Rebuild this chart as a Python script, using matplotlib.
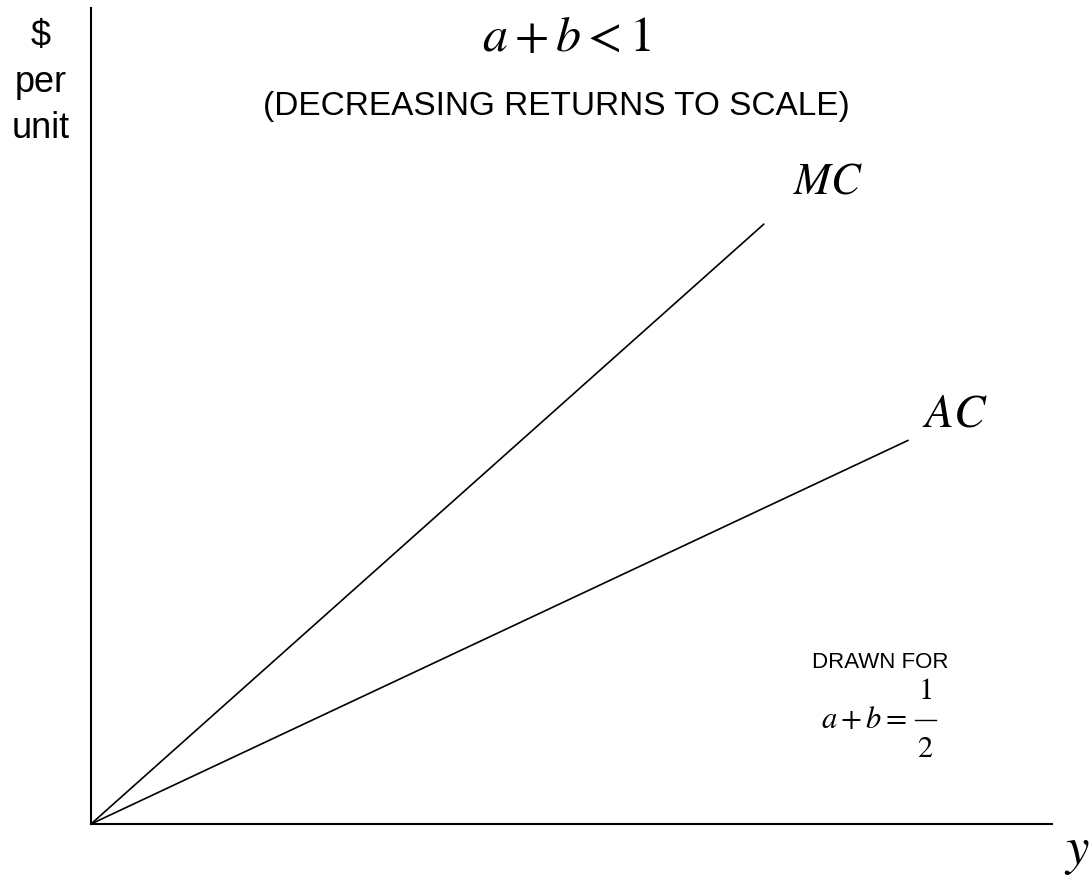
import matplotlib
matplotlib.use("Agg")
import matplotlib.pyplot as plt
from matplotlib.lines import Line2D

plt.rcParams['font.family'] = ['Liberation Sans', 'DejaVu Sans']
plt.rcParams['mathtext.fontset'] = 'stix'

# data (nominal units, axes go 0..10)
mc_x = [0, 7.0]
mc_y = [0, 7.35]
ac_x = [0, 8.5]
ac_y = [0, 4.7]

W, H = 1091, 877
fig = plt.figure(figsize=(W / 100, H / 100), dpi=100)

# axes box in pixels: origin (91, 824), x-axis ends 1052, y-axis top 8
ax = fig.add_axes([91 / W, (H - 824) / H, (1052 - 91) / W, (824 - 8) / H])
ax.set_xlim(0, 10)
ax.set_ylim(0, 10)
for s in ['top', 'right']:
    ax.spines[s].set_visible(False)
for s in ['left', 'bottom']:
    ax.spines[s].set_linewidth(1.5)
ax.set_xticks([])
ax.set_yticks([])

ax.plot(mc_x, mc_y, color='black', lw=1.2)
ax.plot(ac_x, ac_y, color='black', lw=1.2)


def txt(x, y, s, size, **kw):  # pixel coords -> figure fraction
    fig.text(x / W, 1 - y / H, s, fontsize=size, ha='center', va='center', **kw)


txt(41, 37, '$', 26)
txt(41, 83, 'per', 26)
txt(41, 128, 'unit', 26)

txt(567, 38, r'$a+b<1$', 36)
txt(556, 106, '(DECREASING RETURNS TO SCALE)', 24)

txt(828, 182, r'$MC$', 32)
txt(955, 415, r'$AC$', 34)

txt(880, 663, 'DRAWN FOR', 16)
# a+b = 1/2, fraction drawn by hand so 1 and 2 stay full size
txt(864, 720, r'$a+b=$', 22)
txt(925, 691, r'$1$', 22)
txt(925, 749, r'$2$', 22)
fig.add_artist(Line2D([915 / W, 936 / W], [1 - 720 / H, 1 - 720 / H], color='black', lw=1))

txt(1077, 852, r'$y$', 38)

fig.savefig('out.png', dpi=100)
